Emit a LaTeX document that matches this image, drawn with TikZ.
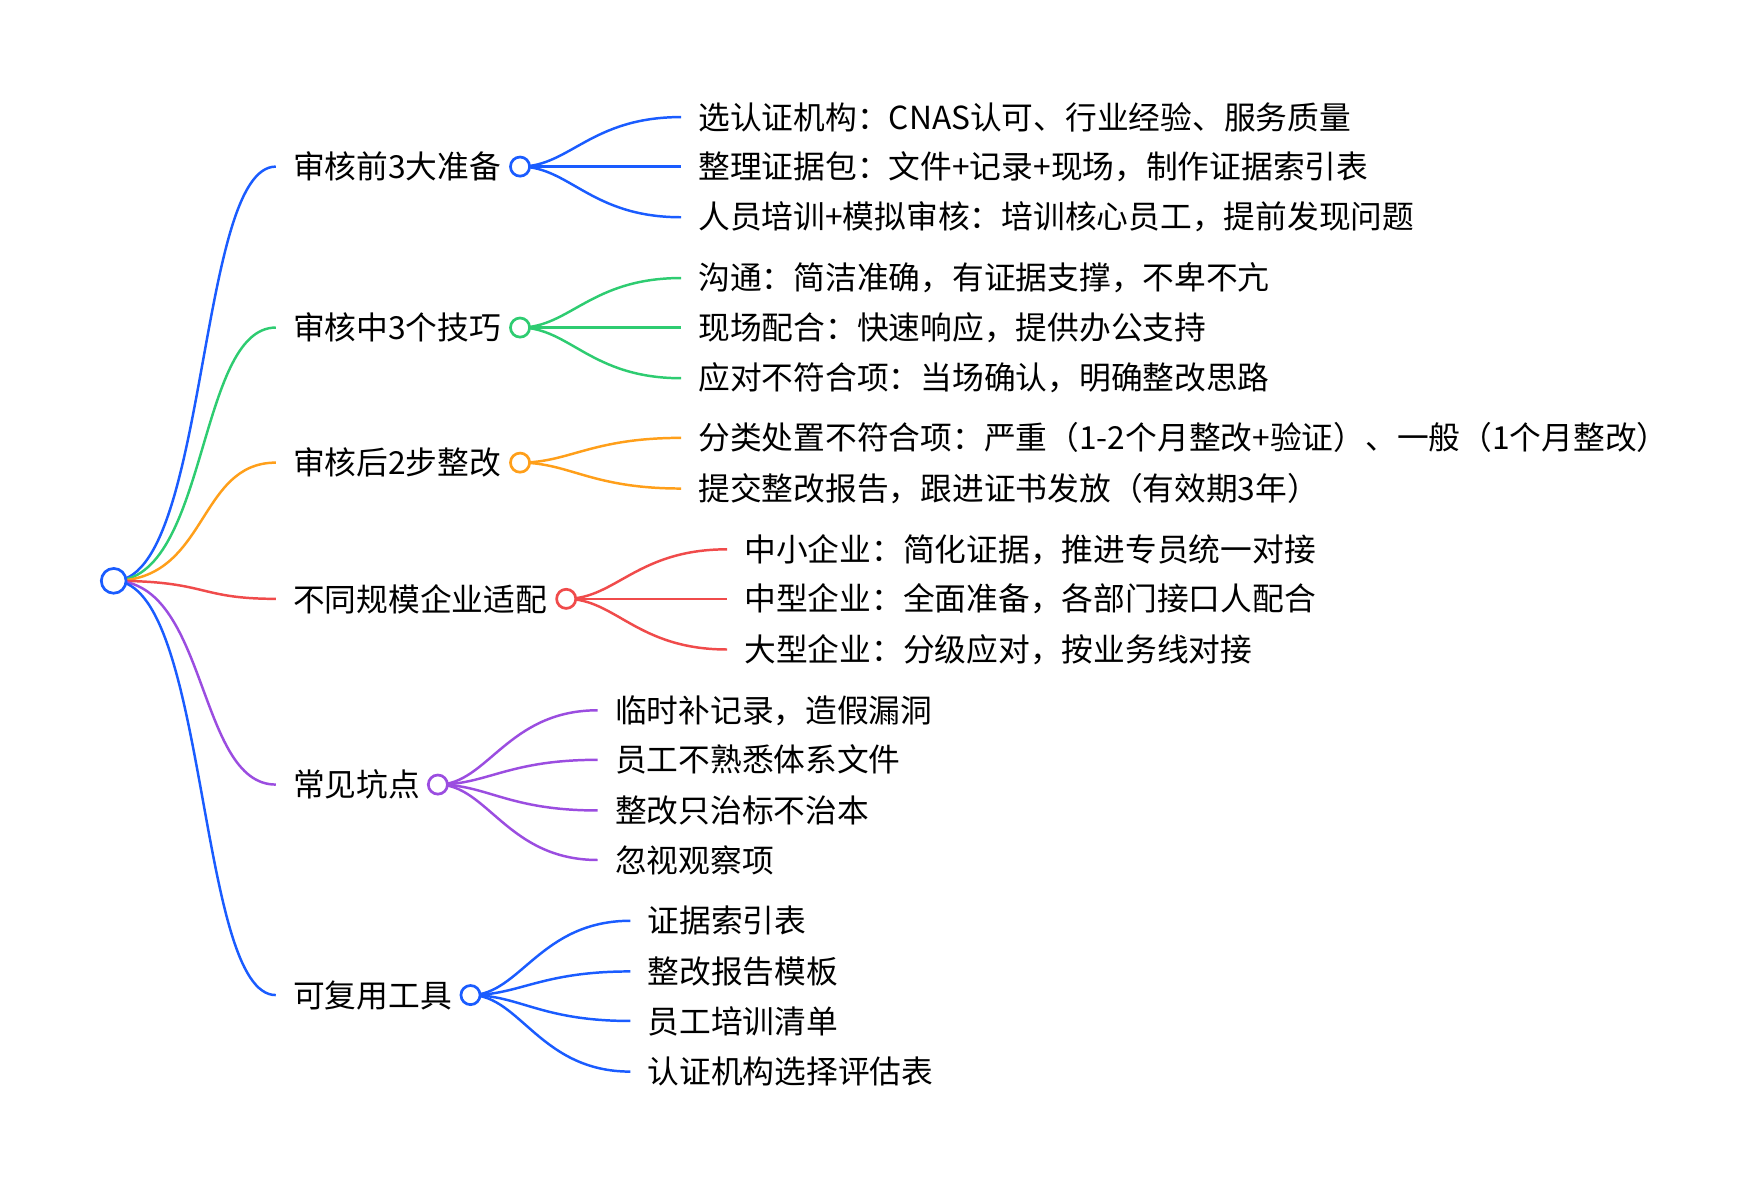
\documentclass[tikz,border=0pt]{standalone}
\usepackage{fontspec}
\setmainfont{Noto Sans CJK SC}
\definecolor{cb}{HTML}{1A5CFF}
\definecolor{cg}{HTML}{2ECC71}
\definecolor{co}{HTML}{FF9F1A}
\definecolor{cr}{HTML}{F04B4B}
\definecolor{cp}{HTML}{9B4DE0}
\begin{document}
\begin{tikzpicture}[x=0.5pt,y=-0.5pt,
  txt/.style={anchor=west,inner sep=0pt,font=\fontsize{14.1}{16}\selectfont},
  dot/.style={circle,draw,line width=1.2pt,fill=white,minimum size=8.5pt,inner sep=0pt},
  ln/.style={line width=1.1pt}]
\useasboundingbox (0,0) rectangle (1560,1050);
\coordinate (root) at (101,516);
\foreach \n/\y/\cx/\c/\t in {a/148/462/cb/审核前3大准备, b/291/462/cg/审核中3个技巧, c/411/462/co/审核后2步整改, d/532/503/cr/不同规模企业适配, e/697/389/cp/常见坑点, f/884/418/cb/可复用工具}{
  \coordinate (\n in) at (245,\y);
  \node[txt] (\n t) at (260,\y) {\t};
  \coordinate (\n c) at (\cx,\y);
  \draw[ln,\c] (root) .. controls (185,516) and (175,\y) .. (\n in);
}
\foreach \p/\k/\y/\ex/\c/\t in {
 a/1/104/605/cb/{选认证机构：CNAS认可、行业经验、服务质量},
 a/2/148/605/cb/{整理证据包：文件+记录+现场，制作证据索引表},
 a/3/193/605/cb/{人员培训+模拟审核：培训核心员工，提前发现问题},
 b/1/247/605/cg/{沟通：简洁准确，有证据支撑，不卑不亢},
 b/2/291/605/cg/{现场配合：快速响应，提供办公支持},
 b/3/336/605/cg/{应对不符合项：当场确认，明确整改思路},
 c/1/389/605/co/{分类处置不符合项：严重（1-2个月整改+验证）、一般（1个月整改）},
 c/2/434/605/co/{提交整改报告，跟进证书发放（有效期3年）},
 d/1/488/646/cr/{中小企业：简化证据，推进专员统一对接},
 d/2/532/646/cr/{中型企业：全面准备，各部门接口人配合},
 d/3/577/646/cr/{大型企业：分级应对，按业务线对接},
 e/1/631/531/cp/{临时补记录，造假漏洞},
 e/2/675/531/cp/{员工不熟悉体系文件},
 e/3/720/531/cp/{整改只治标不治本},
 e/4/764/531/cp/{忽视观察项},
 f/1/818/560/cb/{证据索引表},
 f/2/863/560/cb/{整改报告模板},
 f/3/907/560/cb/{员工培训清单},
 f/4/952/560/cb/{认证机构选择评估表}}{
  \coordinate (\p\k e) at (\ex,\y);
  \node[txt] (\p\k t) at (\ex+15,\y) {\t};
  \draw[ln,\c] (\p c) .. controls ([xshift=22pt]\p c) and ([xshift=-40pt]\p\k e) .. (\p\k e);
}
\node[dot,draw=cb,minimum size=11pt] (rootdot) at (root) {};
\foreach \n/\c in {a/cb,b/cg,c/co,d/cr,e/cp,f/cb}{\node[dot,draw=\c] (\n dot) at (\n c) {};}
\end{tikzpicture}
\end{document}
